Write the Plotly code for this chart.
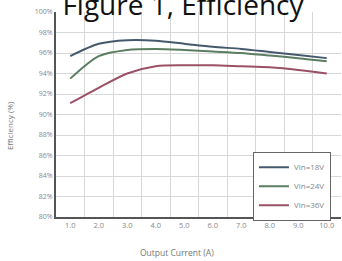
import plotly.graph_objects as go

currents = [1, 2, 3, 4, 5, 6, 7, 8, 9, 10]
current_labels = ["1.0", "2.0", "3.0", "4.0", "5.0", "6.0", "7.0", "8.0", "9.0", "10.0"]
grid_positions = [0.5, 1.5, 2.5, 3.5, 4.5, 5.5, 6.5, 7.5, 8.5, 9.5, 10.5]
eff_18v = [95.7, 96.9, 97.25, 97.2, 96.9, 96.6, 96.4, 96.1, 95.8, 95.5]
eff_24v = [93.5, 95.7, 96.3, 96.4, 96.3, 96.15, 96.0, 95.75, 95.5, 95.2]
eff_36v = [91.1, 92.6, 94.0, 94.7, 94.8, 94.8, 94.7, 94.6, 94.35, 94.0]
y_ticks = [80, 82, 84, 86, 88, 90, 92, 94, 96, 98, 100]
y_tick_labels = [f"{v}%" for v in y_ticks]

series = [
    ("Vin=18V", eff_18v, "#46596c"),
    ("Vin=24V", eff_24v, "#5b7d61"),
    ("Vin=36V", eff_36v, "#9a5065"),
]

fig = go.Figure()
for name, vals, color in series:
    fig.add_trace(go.Scatter(
        x=currents, y=vals, name=name, mode="lines",
        line=dict(color=color, width=2, shape="spline", smoothing=0.8),
    ))

fig.update_layout(
    width=342, height=261,
    margin=dict(l=56, r=1, t=12, b=44),
    paper_bgcolor="white", plot_bgcolor="white",
    font=dict(family="Open Sans", color="#666", size=7),
    title=dict(text="Figure 1, Efficiency", x=0.535, xanchor="center",
               y=0.98, yanchor="middle", yref="container",
               font=dict(family="Open Sans", size=28, color="#111")),
    showlegend=True,
    legend=dict(x=0.691, y=0.318, xanchor="left", yanchor="top",
                bgcolor="white", bordercolor="#666", borderwidth=1,
                font=dict(size=8, color="#888"), itemwidth=30,
                tracegroupgap=0),
    annotations=[
        dict(text="Efficiency (%)", xref="paper", yref="paper",
             x=-0.161, y=0.444, textangle=-90, showarrow=False,
             xanchor="center", yanchor="middle",
             font=dict(size=8, color="#777")),
        dict(text="Output Current (A)", xref="paper", yref="paper",
             x=0.4246, y=-0.171, showarrow=False,
             xanchor="center", yanchor="middle",
             font=dict(size=8.5, color="#777")),
    ],
)
fig.update_xaxes(
    range=[0.5, 10.5], tickvals=currents, ticktext=current_labels,
    showgrid=False, ticks="",
    minor=dict(tickvals=grid_positions, showgrid=True, gridcolor="#d8d8d8", gridwidth=1, ticks=""),
    showline=True, linecolor="#555", linewidth=2,
    tickfont=dict(size=7.5, color="#888"), zeroline=False,
)
fig.update_yaxes(
    range=[80, 100], tickvals=y_ticks, ticktext=y_tick_labels,
    showgrid=True, gridcolor="#d8d8d8", gridwidth=1,
    showline=True, linecolor="#555", linewidth=2,
    tickfont=dict(size=7, color="#888"), ticks="",
    zeroline=False,
)

fig.write_html(
    "out.html",
    config={"displayModeBar": False},
    post_script="document.body.style.margin='0';document.body.style.overflow='hidden';",
)
